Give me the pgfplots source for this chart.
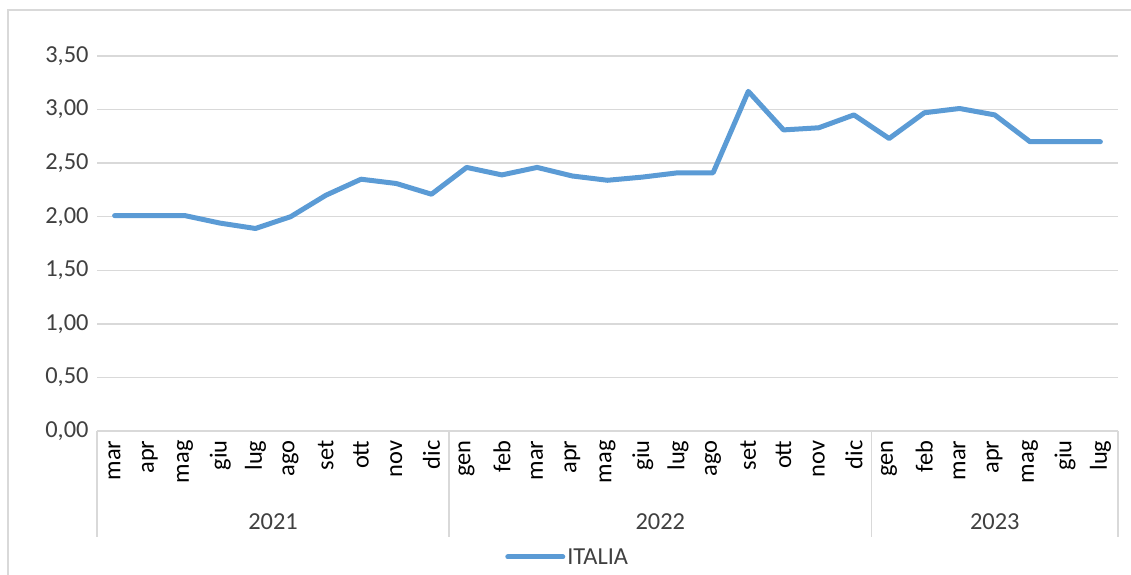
\documentclass[border=0pt]{standalone}
\usepackage{fontspec}
\setmainfont{Carlito}
\usepackage{pgfplots}
\pgfplotsset{compat=1.18}
\definecolor{serie}{HTML}{5B9BD5}
\definecolor{griglia}{HTML}{D9D9D9}
\definecolor{testo}{HTML}{404040}
\newcommand{\fnt}{\fontsize{24.5}{28}\selectfont}

\begin{document}
\begin{tikzpicture}[x=1bp,y=1bp]
\useasboundingbox (0,0) rectangle (1131,575);
% cornice del grafico
\draw[griglia, line width=1.5bp] (8,0) -- (8,565) -- (1131,565);

\begin{axis}[
    at={(97bp,144bp)}, anchor=south west,
    scale only axis, width=1021bp, height=375bp,
    xmin=-0.5, xmax=28.5, ymin=0, ymax=3.5,
    clip=false,
    axis line style={draw=none},
    major tick length=0pt,
    ytick={0,0.5,...,3.5},
    ymajorgrids, grid style={griglia, line width=1.5bp},
    xtick={0,...,28},
    xticklabels={mar,apr,mag,giu,lug,ago,set,ott,nov,dic,
                 gen,feb,mar,apr,mag,giu,lug,ago,set,ott,nov,dic,
                 gen,feb,mar,apr,mag,giu,lug},
    xticklabel style={rotate=90, anchor=east, font=\fnt, text=black},
    xticklabel shift=6bp,
    yticklabel style={font=\fnt, text=testo, xshift=-5bp},
    /pgf/number format/.cd, assume math mode=true, use comma, fixed, fixed zerofill, precision=2,
    /pgfplots/.cd,
    legend style={at={(0.461,-0.336)}, anchor=center, draw=none, fill=none,
                  font=\fnt, text=testo},
    legend image code/.code={\draw[#1] (0bp,0bp) -- (55bp,0bp);},
]
\addplot[serie, line width=5bp, line join=round, line cap=round, mark=none] coordinates {
    (0,2.01) (1,2.01) (2,2.01) (3,1.94) (4,1.89) (5,2.00) (6,2.20) (7,2.35) (8,2.31) (9,2.21)
    (10,2.46) (11,2.39) (12,2.46) (13,2.38) (14,2.34) (15,2.37) (16,2.41) (17,2.41)
    (18,3.17) (19,2.81) (20,2.83) (21,2.95)
    (22,2.73) (23,2.97) (24,3.01) (25,2.95) (26,2.70) (27,2.70) (28,2.70)
};
\addlegendentry{ITALIA}

% tabella delle categorie
\pgfplotsinvokeforeach{-0.5,9.5,21.5,28.5}{
    \draw[griglia, line width=1.5bp] (axis cs:#1,0) -- ([yshift=-106bp]axis cs:#1,0);
}
\node[font=\fnt, text=testo] at ([yshift=-91bp]axis cs:4.5,0) {2021};
\node[font=\fnt, text=testo] at ([yshift=-91bp]axis cs:15.5,0) {2022};
\node[font=\fnt, text=testo] at ([yshift=-91bp]axis cs:25,0) {2023};
\end{axis}
\end{tikzpicture}
\end{document}
